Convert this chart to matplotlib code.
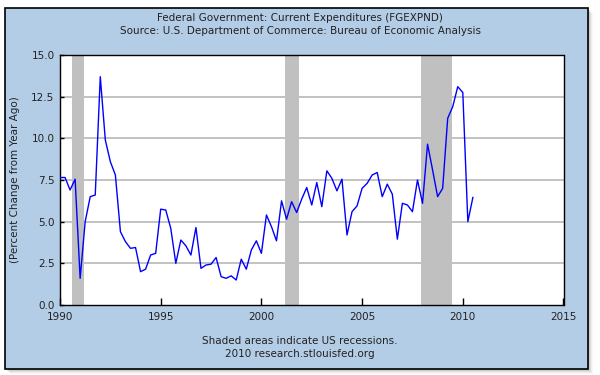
import matplotlib
matplotlib.use("Agg")
import matplotlib.pyplot as plt
from matplotlib.patches import Rectangle
import numpy as np

# Quarterly percent change from year ago, 1990Q1 .. 2010Q3
values = [
    7.65, 7.65, 6.9, 7.55, 1.6, 5.0, 6.5, 6.6,          # 1990-1991
    13.7, 9.9, 8.6, 7.8, 4.4, 3.8, 3.4, 3.45,           # 1992-1993
    2.0, 2.15, 3.0, 3.1, 5.75, 5.7, 4.6, 2.5,           # 1994-1995
    3.9, 3.55, 3.0, 4.65, 2.2, 2.4, 2.45, 2.85,         # 1996-1997
    1.7, 1.6, 1.75, 1.5, 2.75, 2.15, 3.3, 3.85,         # 1998-1999
    3.1, 5.4, 4.7, 3.85, 6.25, 5.15, 6.2, 5.55,         # 2000-2001
    6.35, 7.05, 6.0, 7.35, 5.9, 8.05, 7.6, 6.85,        # 2002-2003
    7.55, 4.2, 5.6, 5.95, 7.0, 7.3, 7.8, 7.95,          # 2004-2005
    6.5, 7.25, 6.65, 3.95, 6.1, 6.0, 5.6, 7.5,          # 2006-2007
    6.1, 9.65, 8.1, 6.5, 7.0, 11.2, 11.9, 13.1,         # 2008-2009
    12.75, 5.0, 6.45,                                    # 2010
]
start_year = 1990.0
dates = start_year + np.arange(len(values)) / 4.0

recessions = [(1990.58, 1991.17), (2001.17, 2001.87), (2007.92, 2009.45)]

x_ticks = [1990, 1995, 2000, 2005, 2010, 2015]
y_ticks = [0.0, 2.5, 5.0, 7.5, 10.0, 12.5, 15.0]

title1 = "Federal Government: Current Expenditures (FGEXPND)"
title2 = "Source: U.S. Department of Commerce: Bureau of Economic Analysis"
ylabel = "(Percent Change from Year Ago)"
foot1 = "Shaded areas indicate US recessions."
foot2 = "2010 research.stlouisfed.org"

W, H = 600, 375
fig = plt.figure(figsize=(W / 100, H / 100), dpi=100)
fig.patch.set_facecolor("white")

txt_color = "#222222"
fs = 7.5

# shadow
px0, py0, px1, py1 = 5, 8, 588, 369
for i, a in enumerate([0.10, 0.08, 0.06, 0.04, 0.03]):
    off = 1 + i
    fig.patches.append(Rectangle(((px0 + off) / W, 1 - (py1 + off) / H),
                                 (px1 - px0) / W, (py1 - py0) / H,
                                 transform=fig.transFigure, facecolor="black",
                                 edgecolor="none", alpha=a, zorder=0))
# blue panel
fig.patches.append(Rectangle((px0 / W, 1 - py1 / H), (px1 - px0) / W, (py1 - py0) / H,
                             transform=fig.transFigure, facecolor="#B4CDE6",
                             edgecolor="black", linewidth=1.2, zorder=1))

ax_l, ax_r, ax_t, ax_b = 60, 563.5, 55, 305
ax = fig.add_axes([ax_l / W, 1 - ax_b / H, (ax_r - ax_l) / W, (ax_b - ax_t) / H])
ax.set_facecolor("white")
ax.set_zorder(2)

for (a, b) in recessions:
    ax.axvspan(a, b, color="#C0C0C0", lw=0, zorder=1)
for yv in y_ticks[1:-1]:
    ax.axhline(yv, color="#BDBDBD", lw=1.3, zorder=0.5)

ax.plot(dates, values, color="#0000FF", lw=1.0, zorder=3)

ax.set_xlim(1990, 2015)
ax.set_ylim(0, 15)
ax.set_xticks(x_ticks)
ax.set_xticklabels([str(t) for t in x_ticks], fontsize=fs, color=txt_color)
ax.set_yticks(y_ticks)
ax.set_yticklabels([f"{t:.1f}" for t in y_ticks], fontsize=fs, color=txt_color)
ax.tick_params(axis="x", direction="in", length=5, width=1, pad=5)
ax.tick_params(axis="y", direction="in", length=3, width=1, pad=4)
for s in ax.spines.values():
    s.set_color("black")
    s.set_linewidth(1.0)

ax.set_ylabel(ylabel, fontsize=fs, color=txt_color, labelpad=8)

fig.text(0.5, 1 - 18 / H, title1, ha="center", va="center", fontsize=fs, color=txt_color)
fig.text(0.5, 1 - 31 / H, title2, ha="center", va="center", fontsize=fs, color=txt_color)
fig.text(0.5, 1 - 341 / H, foot1, ha="center", va="center", fontsize=fs, color=txt_color)
fig.text(0.5, 1 - 354 / H, foot2, ha="center", va="center", fontsize=fs, color=txt_color)

fig.savefig("out.png", dpi=100, facecolor="white")
